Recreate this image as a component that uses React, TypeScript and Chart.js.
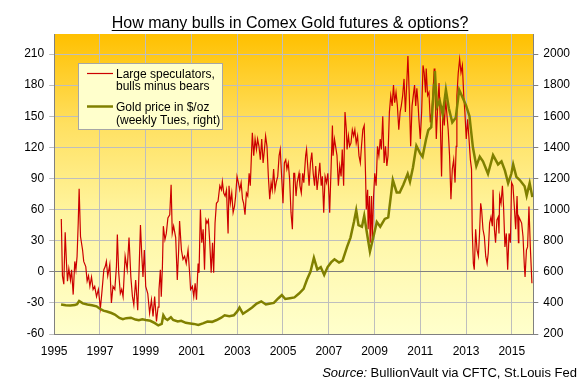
import { useEffect, useRef } from 'react';
import { Chart, registerables } from 'chart.js';

Chart.register(...registerables);

const titleText = 'How many bulls in Comex Gold futures & options?';
const legendRed = ['Large speculators,', 'bulls minus bears'];
const legendGold = ['Gold price in $/oz', '(weekly Tues, right)'];
const sourceItalic = 'Source:';
const sourceRest = ' BullionVault via CFTC, St.Louis Fed';

const xTickYears = [1995, 1997, 1999, 2001, 2003, 2005, 2007, 2009, 2011, 2013, 2015];
const leftTicks = [-60, -30, 0, 30, 60, 90, 120, 150, 180, 210];
const rightTicks = [200, 400, 600, 800, 1000, 1200, 1400, 1600, 1800, 2000];

// Large speculators, bulls minus bears (thousand contracts)
const redYears = [
  1995.31, 1995.36, 1995.42, 1995.48, 1995.54, 1995.58, 1995.64, 1995.71, 1995.76, 1995.83,
  1995.90, 1995.95, 1996.00, 1996.05, 1996.09, 1996.15, 1996.24, 1996.29, 1996.38, 1996.44,
  1996.50, 1996.56, 1996.63, 1996.70, 1996.77, 1996.85, 1996.93, 1997.02, 1997.08, 1997.17,
  1997.23, 1997.28, 1997.34, 1997.43, 1997.50, 1997.57, 1997.65, 1997.72, 1997.76, 1997.82,
  1997.89, 1997.95, 1998.01, 1998.10, 1998.19, 1998.27, 1998.35, 1998.42, 1998.48, 1998.56,
  1998.65, 1998.71, 1998.77, 1998.83, 1998.88, 1998.94, 1999.00, 1999.09, 1999.17, 1999.25,
  1999.32, 1999.39, 1999.47, 1999.54, 1999.58, 1999.64, 1999.68, 1999.73, 1999.77, 1999.84,
  1999.90, 1999.97, 2000.05, 2000.11, 2000.16, 2000.22, 2000.31, 2000.38, 2000.44, 2000.48,
  2000.56, 2000.63, 2000.70, 2000.77, 2000.85,
  2000.93, 2000.96, 2001.04, 2001.10, 2001.16, 2001.22, 2001.29, 2001.33, 2001.39, 2001.45,
  2001.51, 2001.57, 2001.63, 2001.68, 2001.74, 2001.80, 2001.86, 2001.92, 2001.97, 2002.03,
  2002.09, 2002.16, 2002.24, 2002.31, 2002.35, 2002.41, 2002.47, 2002.53, 2002.60, 2002.64,
  2002.70, 2002.76, 2002.82, 2002.88, 2002.93, 2002.99, 2003.05, 2003.11, 2003.17, 2003.23,
  2003.28, 2003.34, 2003.40, 2003.46, 2003.52, 2003.57, 2003.63, 2003.66, 2003.72, 2003.78,
  2003.84, 2003.89, 2003.95, 2004.01, 2004.07, 2004.13, 2004.19, 2004.24, 2004.30, 2004.36,
  2004.42, 2004.48, 2004.53, 2004.59, 2004.65, 2004.71, 2004.77, 2004.83, 2004.88, 2004.94,
  2005.00, 2005.06, 2005.12, 2005.17, 2005.23, 2005.29, 2005.35, 2005.41, 2005.47,
  2005.51, 2005.57, 2005.62, 2005.70, 2005.74, 2005.80, 2005.86, 2005.91, 2005.99, 2006.03,
  2006.09, 2006.14, 2006.20, 2006.26, 2006.32, 2006.38, 2006.43, 2006.49, 2006.55, 2006.61,
  2006.67, 2006.72, 2006.78, 2006.84, 2006.90, 2006.96, 2007.01, 2007.04, 2007.10, 2007.16,
  2007.19, 2007.25, 2007.30, 2007.36, 2007.42, 2007.48, 2007.54, 2007.59, 2007.65, 2007.71,
  2007.77, 2007.80, 2007.86, 2007.91, 2007.97, 2008.03, 2008.09, 2008.14, 2008.20, 2008.26,
  2008.32, 2008.38, 2008.43, 2008.49, 2008.55, 2008.61, 2008.64, 2008.70, 2008.72, 2008.78,
  2008.81, 2008.87, 2008.90, 2008.96, 2009.01, 2009.07, 2009.13, 2009.19, 2009.25, 2009.30,
  2009.36, 2009.42, 2009.48, 2009.54, 2009.59, 2009.65, 2009.71, 2009.77, 2009.83, 2009.88,
  2009.94, 2010.00, 2010.06, 2010.12, 2010.17, 2010.23, 2010.29, 2010.35, 2010.41, 2010.46,
  2010.52, 2010.58, 2010.64,
  2010.75, 2010.80, 2010.85, 2010.90, 2010.94, 2011.00, 2011.06, 2011.12, 2011.17, 2011.23,
  2011.26, 2011.32, 2011.38, 2011.44, 2011.50, 2011.55, 2011.61, 2011.64, 2011.70, 2011.76,
  2011.82, 2011.87, 2011.93, 2011.99, 2012.05, 2012.11, 2012.17, 2012.22, 2012.28, 2012.34,
  2012.40, 2012.46, 2012.52, 2012.57, 2012.60, 2012.66, 2012.72, 2012.78, 2012.84, 2012.90,
  2012.95, 2013.01, 2013.07, 2013.13, 2013.19, 2013.24, 2013.27, 2013.32, 2013.36, 2013.42,
  2013.48, 2013.54, 2013.59, 2013.64, 2013.68, 2013.74, 2013.80, 2013.86, 2013.92, 2013.97,
  2014.03, 2014.09, 2014.15, 2014.18, 2014.24, 2014.29, 2014.35, 2014.41, 2014.44, 2014.47,
  2014.53, 2014.59, 2014.64, 2014.70, 2014.76, 2014.82, 2014.88, 2014.94, 2014.99, 2015.05,
  2015.11, 2015.17, 2015.23, 2015.29, 2015.31, 2015.37, 2015.43, 2015.49, 2015.55, 2015.58,
  2015.64, 2015.69, 2015.75, 2015.81, 2015.88,
];
const redValues = [
  51, -4, -12, 38, 7, -9, 3, -8, 2, -22,
  10, 2, 15, 47, 80, 34, 21, 10, 5, -9,
  -4, -14, -5, -17, -14, -24, -17, -35, -21, 2,
  5, 10, -4, 7, -30, -14, -17, 5, 36, -1,
  -21, -17, -24, 15, 2, 33, -5, -24, -32, -8,
  -37, 2, 45, 15, -5, 21, -14, -21, -40, -27,
  -43, -24, -48, -34, -17, 2, -24, 5, 44, 31,
  37, 52, 55, 84, 37, 44, 33, -8, 21, 49,
  21, 12, 15, 8, 21,
  -5, -17, -14, -24, -11, -27, 8, -1, 60, 28,
  41, 2, 50, 47, 50, 28, -1, 28, -1, 47,
  66, 68, 83, 79, 87, 76, 73, 79, 37, 83,
  66, 76, 57, 63, 73, 92, 86, 79, 86, 70,
  66, 55, 76, 73, 95, 83, 118, 134, 112, 128,
  118, 128, 121, 108, 128, 105, 118, 131, 121, 92,
  70, 86, 79, 99, 79, 87, 92, 112, 118, 92,
  66, 105, 108, 99, 105, 89, 57, 41, 95,
  95, 73, 86, 95, 83, 76, 95, 86, 112, 118,
  99, 83, 105, 115, 95, 83, 102, 79, 92, 105,
  83, 92, 57, 92, 86, 95, 73, 57, 99, 141,
  112, 128, 121, 112, 83, 102, 92, 118, 83, 154,
  137, 118, 131, 121, 124, 137, 131, 137, 124, 131,
  112, 105, 121, 137, 141, 92, 60, 79, 41, 73,
  28, 73, 28, 73, 95, 83, 121, 112, 128, 118,
  150, 105, 121, 102, 112, 154, 170, 160, 180, 163,
  173, 160, 137, 154, 160, 170, 186, 154, 182, 208,
  170, 121, 160,
  180, 160, 177, 163, 147, 128, 154, 199, 192, 173,
  196, 170, 173, 144, 154, 170, 196, 186, 128, 160,
  182, 150, 92, 160, 141, 166, 150, 137, 112, 70,
  99, 108, 86, 121, 170, 192, 205, 192, 199, 170,
  154, 128, 147, 128, 108, 99, 41, 8, 2, 41,
  21, 15, 37, 66, 60, 41, 34, 15, 8, 18,
  47, 53, 44, 79, 41, 28, 50, 53, 37, 73,
  66, 83, 63, 24, 37, 2, 37, 28, 86, 83,
  63, 41, 73, 28, 53, 50, 47, 34, 5, -5,
  21, 24, 63, 24, -11,
];

// Gold price, $/oz (right axis)
const goldYears = [
  1995.30, 1995.50, 1995.70, 1995.90, 1996.00, 1996.09, 1996.25, 1996.45, 1996.65, 1996.85,
  1997.00, 1997.15, 1997.30, 1997.50, 1997.65, 1997.85, 1998.00, 1998.15, 1998.35, 1998.55,
  1998.70, 1998.85, 1999.00, 1999.20, 1999.40, 1999.55, 1999.70, 1999.77, 1999.85, 1999.95,
  2000.10, 2000.20, 2000.40, 2000.55, 2000.75, 2000.95, 2001.10, 2001.30, 2001.50, 2001.70,
  2001.90, 2002.10, 2002.30, 2002.45, 2002.65, 2002.85, 2003.00, 2003.10, 2003.25, 2003.45,
  2003.65, 2003.85, 2004.05, 2004.25, 2004.40, 2004.60, 2004.80, 2004.95, 2005.10, 2005.30,
  2005.50, 2005.70, 2005.90, 2006.05, 2006.20, 2006.35, 2006.50, 2006.65, 2006.80, 2006.95,
  2007.10, 2007.25, 2007.45, 2007.60, 2007.80, 2007.95, 2008.10, 2008.20, 2008.30, 2008.45,
  2008.55, 2008.70, 2008.80, 2008.96, 2009.10, 2009.25, 2009.45, 2009.60, 2009.80, 2009.97,
  2010.10, 2010.26, 2010.45, 2010.55, 2010.68, 2010.83, 2011.00, 2011.10, 2011.25, 2011.35,
  2011.48, 2011.60, 2011.64, 2011.72, 2011.85, 2011.98, 2012.12, 2012.25, 2012.40, 2012.55,
  2012.70, 2012.85, 2013.00, 2013.15, 2013.30, 2013.45, 2013.60, 2013.74, 2013.96, 2014.18,
  2014.40, 2014.55, 2014.70, 2014.84, 2014.98, 2015.06, 2015.20, 2015.35, 2015.56, 2015.65,
  2015.78, 2015.90,
];
const goldPrices = [
  390, 385, 383, 386, 392, 412, 397, 390, 385, 378,
  362, 350, 345, 335, 325, 303, 295, 302, 305, 293,
  288, 295, 290, 285, 270, 255, 265, 320, 300, 290,
  308, 290, 280, 285, 272, 268, 265, 258, 268, 280,
  278, 290, 305, 320, 315, 320, 345, 370, 330, 350,
  370, 395, 410, 390, 395, 400, 430, 450, 425, 430,
  435, 460, 490, 550, 600, 690, 615, 630, 580, 630,
  660, 680, 660, 670, 760, 820, 920, 995, 900, 890,
  960, 820, 730, 830, 920, 890, 940, 950, 1190, 1110,
  1110, 1160, 1230, 1180, 1270, 1410, 1360, 1340, 1450, 1510,
  1530, 1800, 1890, 1660, 1700, 1610, 1770, 1650, 1560, 1590,
  1770, 1720, 1670, 1600, 1400, 1280, 1340, 1310, 1230, 1350,
  1290, 1310, 1250, 1170, 1230, 1290, 1210, 1190, 1150, 1090,
  1170, 1080,
];

const FONT = "'Liberation Sans', Arial, sans-serif";
const LEFT_MIN = -60;
const LEFT_MAX = 229.3;
const RIGHT_MIN = 200;
const RIGHT_MAX = RIGHT_MIN + (LEFT_MAX - LEFT_MIN) * (1800 / 270);

const bgPlugin = {
  id: 'bgGradient',
  beforeDraw(chart: any) {
    const { ctx, chartArea: a } = chart;
    ctx.save();
    ctx.fillStyle = '#FFFFFF';
    ctx.fillRect(0, 0, chart.width, chart.height);
    const g = ctx.createLinearGradient(0, a.top, 0, a.bottom);
    g.addColorStop(0, '#FFC000');
    g.addColorStop(0.3, '#FFE060');
    g.addColorStop(0.6, '#FFF5A0');
    g.addColorStop(1, '#FFFFCC');
    ctx.fillStyle = g;
    ctx.fillRect(a.left, a.top, a.right - a.left, a.bottom - a.top);
    ctx.restore();
  },
};

const overlayPlugin = {
  id: 'overlay',
  afterDraw(chart: any) {
    const { ctx } = chart;
    ctx.save();
    // Title with underline
    ctx.font = `16px ${FONT}`;
    ctx.fillStyle = '#000000';
    ctx.textBaseline = 'alphabetic';
    ctx.textAlign = 'left';
    const tw = ctx.measureText(titleText).width;
    const tx = 290 - tw / 2;
    ctx.fillText(titleText, tx, 27.5);
    ctx.strokeStyle = '#000000';
    ctx.lineWidth = 1;
    ctx.beginPath();
    ctx.moveTo(tx, 30.5);
    ctx.lineTo(tx + tw, 30.5);
    ctx.stroke();

    // Legend box
    ctx.fillStyle = '#FFFFCC';
    ctx.fillRect(79, 63.5, 144, 66);
    ctx.strokeStyle = '#A6A6A6';
    ctx.lineWidth = 1;
    ctx.strokeRect(78.5, 63.5, 144, 66);
    ctx.strokeStyle = '#CC0000';
    ctx.lineWidth = 1.2;
    ctx.beginPath();
    ctx.moveTo(87, 73.5);
    ctx.lineTo(113, 73.5);
    ctx.stroke();
    ctx.strokeStyle = '#808000';
    ctx.lineWidth = 2.5;
    ctx.beginPath();
    ctx.moveTo(87, 106.5);
    ctx.lineTo(113, 106.5);
    ctx.stroke();
    ctx.fillStyle = '#000000';
    ctx.font = `12px ${FONT}`;
    ctx.fillText(legendRed[0], 116, 77.5);
    ctx.fillText(legendRed[1], 116, 90);
    ctx.fillText(legendGold[0], 116, 110.5);
    ctx.fillText(legendGold[1], 116, 123.5);

    // Source
    ctx.font = `13px ${FONT}`;
    const restW = ctx.measureText(sourceRest).width;
    ctx.font = `italic 13px ${FONT}`;
    const itW = ctx.measureText(sourceItalic).width;
    const right = 577;
    ctx.fillText(sourceItalic, right - restW - itW, 377);
    ctx.font = `13px ${FONT}`;
    ctx.fillText(sourceRest, right - restW, 377);
    ctx.restore();
  },
};

export default function App() {
  const ref = useRef<HTMLCanvasElement | null>(null);

  useEffect(() => {
    if (!ref.current) return;
    const redData = redYears.map((x, i) => ({ x, y: redValues[i] }));
    const goldData = goldYears.map((x, i) => ({ x, y: goldPrices[i] }));
    const chart = new Chart(ref.current, {
      type: 'line',
      data: {
        datasets: [
          {
            label: 'Gold price in $/oz (weekly Tues, right)',
            data: goldData,
            borderColor: '#808000',
            backgroundColor: '#808000',
            borderWidth: 2.5,
            yAxisID: 'y2',
            pointRadius: 0,
            tension: 0,
          },
          {
            label: 'Large speculators, bulls minus bears',
            data: redData,
            borderColor: '#CC0000',
            backgroundColor: '#CC0000',
            borderWidth: 1.2,
            yAxisID: 'y',
            pointRadius: 0,
            tension: 0,
          },
        ],
      },
      options: {
        responsive: false,
        animation: false,
        events: [],
        layout: { padding: { top: 34, left: 0, right: 0, bottom: 0 } },
        plugins: {
          legend: { display: false },
          tooltip: { enabled: false },
          title: { display: false },
        },
        scales: {
          x: {
            type: 'linear',
            position: 'bottom',
            min: 1995,
            max: 2015.94,
            afterBuildTicks: (s: any) => {
              s.ticks = xTickYears.map((v) => ({ value: v }));
            },
            afterFit: (s: any) => {
              s.height = 48;
            },
            ticks: {
              autoSkip: false,
              maxRotation: 0,
              padding: 10,
              color: '#000000',
              font: { family: FONT, size: 12 },
              callback: (v: any) => String(v),
            },
            grid: { color: '#BEBEBE', drawTicks: false, lineWidth: 1 },
            border: { color: '#808080' },
          },
          y: {
            type: 'linear',
            position: 'left',
            min: LEFT_MIN,
            max: LEFT_MAX,
            afterBuildTicks: (s: any) => {
              s.ticks = leftTicks.map((v) => ({ value: v }));
            },
            afterFit: (s: any) => {
              s.width = 54.2;
            },
            ticks: {
              padding: 5,
              color: '#000000',
              font: { family: FONT, size: 12 },
              callback: (v: any) => String(v),
            },
            grid: {
              tickLength: 5,
              color: (c: any) => (c.tick && c.tick.value === 0 ? '#808080' : '#BEBEBE'),
            },
            border: { color: '#808080' },
          },
          y2: {
            type: 'linear',
            position: 'right',
            min: RIGHT_MIN,
            max: RIGHT_MAX,
            afterBuildTicks: (s: any) => {
              s.ticks = rightTicks.map((v) => ({ value: v }));
            },
            afterFit: (s: any) => {
              s.width = 47.7;
            },
            ticks: {
              padding: 5,
              color: '#000000',
              font: { family: FONT, size: 12 },
              callback: (v: any) => String(v),
            },
            grid: { drawOnChartArea: false, tickLength: 5, color: '#808080' },
            border: { color: '#808080' },
          },
        },
      },
      plugins: [bgPlugin, overlayPlugin],
    });
    return () => chart.destroy();
  }, []);

  return (
    <div style={{ position: 'fixed', left: 0, top: 0, width: 581, height: 382, background: '#fff' }}>
      <canvas ref={ref} width={581} height={382} style={{ display: 'block', width: 581, height: 382 }} />
    </div>
  );
}
